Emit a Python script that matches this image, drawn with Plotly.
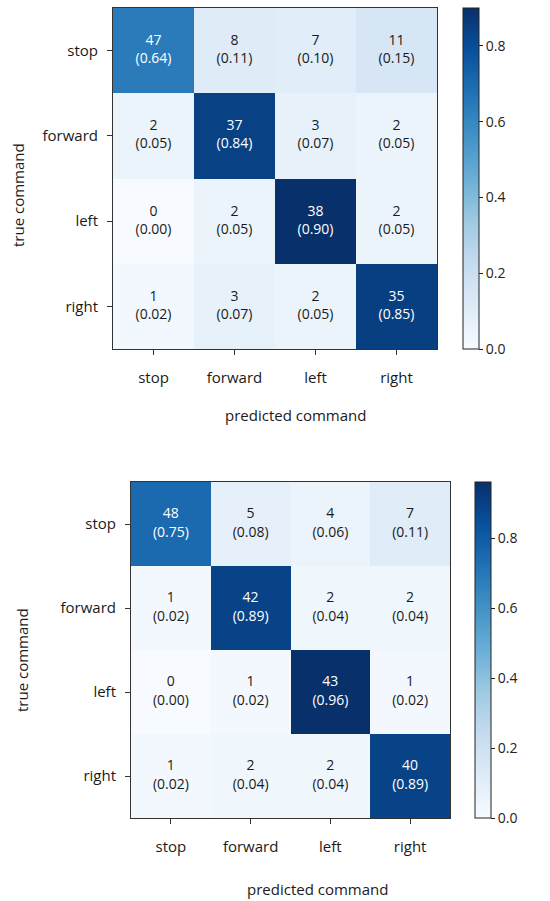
import plotly.graph_objects as go
import plotly.express as px

labels = ["stop", "forward", "left", "right"]

counts_a = [[47, 8, 7, 11],
            [2, 37, 3, 2],
            [0, 2, 38, 2],
            [1, 3, 2, 35]]
norm_a = [[0.64, 0.11, 0.10, 0.15],
          [0.05, 0.84, 0.07, 0.05],
          [0.00, 0.05, 0.90, 0.05],
          [0.02, 0.07, 0.05, 0.85]]

counts_b = [[48, 5, 4, 7],
            [1, 42, 2, 2],
            [0, 1, 43, 1],
            [1, 2, 2, 40]]
norm_b = [[0.75, 0.08, 0.06, 0.11],
          [0.02, 0.89, 0.04, 0.04],
          [0.00, 0.02, 0.96, 0.02],
          [0.02, 0.04, 0.04, 0.89]]

cbar_ticks = [0.0, 0.2, 0.4, 0.6, 0.8]

FONT = "Open Sans"
W, H = 550, 901
blues = px.colors.sequential.Blues

fig = go.Figure()

def add_matrix(counts, norm, xa, ya, cb_x, cb_y, cb_len):
    zmax = max(max(r) for r in norm)
    fig.add_trace(go.Heatmap(
        z=norm, x=labels, y=labels, xaxis=xa, yaxis=ya,
        colorscale=blues, zmin=0, zmax=zmax, hoverinfo="skip",
        colorbar=dict(x=cb_x, xanchor="left", y=cb_y, yanchor="middle",
                      len=cb_len, lenmode="pixels", thickness=16,
                      xpad=0, ypad=0,
                      outlinewidth=1, outlinecolor="#222",
                      tickvals=cbar_ticks, ticktext=[f"{t:.1f}" for t in cbar_ticks],
                      ticks="outside", ticklen=4, tickcolor="#222",
                      tickfont=dict(family=FONT, size=14, color="#222"))))
    xs, ys, txt, cols = [], [], [], []
    for i, r in enumerate(labels):
        for j, c in enumerate(labels):
            xs.append(c); ys.append(r)
            txt.append(f"{counts[i][j]}<br>({norm[i][j]:.2f})")
            cols.append("white" if norm[i][j] > zmax / 2 else "#1a1a1a")
    fig.add_trace(go.Scatter(x=xs, y=ys, xaxis=xa, yaxis=ya, mode="text",
                             text=txt, textfont=dict(family=FONT, size=14, color=cols),
                             hoverinfo="skip", showlegend=False))

add_matrix(counts_a, norm_a, "x", "y", 463 / W, 1 - 178.5 / H, 341)
add_matrix(counts_b, norm_b, "x2", "y2", 475 / W, 1 - 650 / H, 336)

axcommon = dict(showline=True, linecolor="#333", linewidth=1, mirror=True,
                ticks="outside", ticklen=5, tickcolor="#333", showgrid=False,
                zeroline=False, tickfont=dict(family=FONT, size=15, color="#1a1a1a"))

fig.update_layout(
    width=W, height=H, margin=dict(l=0, r=0, t=0, b=0, autoexpand=False),
    plot_bgcolor="white", paper_bgcolor="white", showlegend=False,
    xaxis=dict(domain=[113 / W, 437 / W], anchor="y", ticklabelstandoff=10, **axcommon),
    yaxis=dict(domain=[1 - 349 / H, 1 - 8 / H], anchor="x", autorange="reversed",
               ticklabelstandoff=6, **axcommon),
    xaxis2=dict(domain=[131 / W, 450 / W], anchor="y2", ticklabelstandoff=10, **axcommon),
    yaxis2=dict(domain=[1 - 818 / H, 1 - 482 / H], anchor="x2", autorange="reversed",
                ticklabelstandoff=6, **axcommon),
)

ann_font = dict(family=FONT, size=15, color="#1a1a1a")
fig.add_annotation(text="predicted command", x=295 / W, y=1 - 415 / H, xref="paper", yref="paper",
                   showarrow=False, font=ann_font, xanchor="center", yanchor="middle")
fig.add_annotation(text="true command", x=18 / W, y=1 - 195 / H, xref="paper", yref="paper",
                   showarrow=False, font=ann_font, textangle=-90, xanchor="center", yanchor="middle")
fig.add_annotation(text="predicted command", x=317 / W, y=1 - 889 / H, xref="paper", yref="paper",
                   showarrow=False, font=ann_font, xanchor="center", yanchor="middle")
fig.add_annotation(text="true command", x=22 / W, y=1 - 660 / H, xref="paper", yref="paper",
                   showarrow=False, font=ann_font, textangle=-90, xanchor="center", yanchor="middle")

fig.write_html("out.html", config={"displayModeBar": False},
               post_script="document.body.style.margin='0';document.body.style.overflow='hidden';")
